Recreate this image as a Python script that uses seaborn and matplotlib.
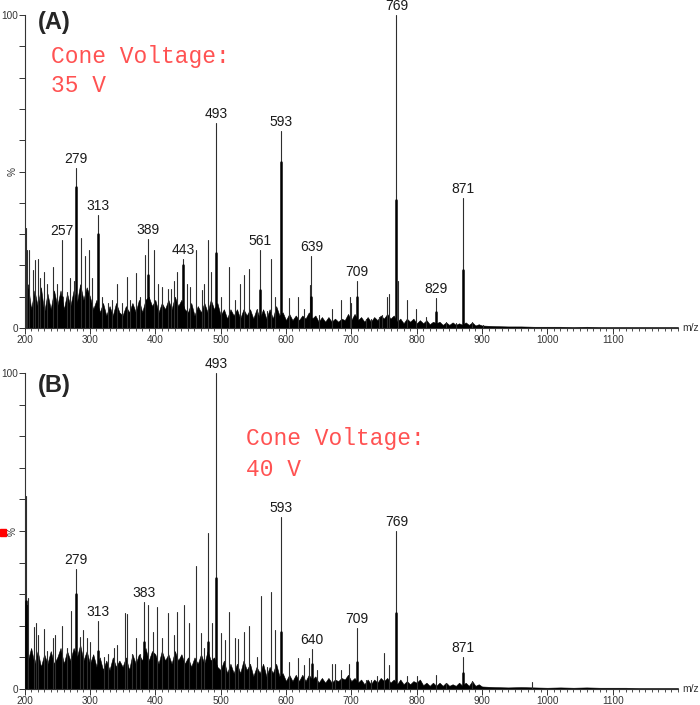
import numpy as np
import pandas as pd
import matplotlib
matplotlib.use("Agg")
import matplotlib.pyplot as plt
from matplotlib.ticker import MultipleLocator, FixedLocator
from matplotlib.patches import Rectangle
import seaborn as sns

# ---- panel A: cone voltage 35 V (m/z, relative intensity %) ----
mz_a = [202, 203.5, 207, 213, 216, 220, 224, 230, 234, 243, 250, 257, 265, 270, 275,
        279, 287, 293, 298, 303, 313, 319, 327, 334, 342, 349, 356, 362, 370, 377,
        384, 389, 398, 404, 411, 419, 424, 429, 434, 443, 449, 453, 462, 472, 475,
        480, 485, 493, 500, 513, 522, 529, 536, 544, 555, 561, 571, 577, 583, 593,
        604, 619, 627, 637, 639, 650, 670, 684, 698, 700, 709, 722, 730, 742, 747,
        755, 758, 769, 772, 786, 799, 815, 829, 845, 860, 871, 885, 902]
int_a = [32, 25, 25, 18.5, 21.7, 22, 16, 18, 14, 19.6, 14, 28, 11.6, 16, 15,
         51, 28.6, 23, 25, 16, 36, 10, 8, 9, 14, 8, 16.4, 9, 17.7, 10,
         23.3, 28.5, 25, 14, 13, 12.6, 12.6, 15, 18, 22, 14, 13, 25, 12, 14,
         28, 18, 65.5, 10, 19.6, 9, 14, 17, 18.8, 6, 25, 5.5, 22, 10, 63,
         9.6, 10, 6, 13.7, 23, 4, 6, 9, 10, 8, 15, 3, 3, 3.6, 4,
         10, 11, 100, 15, 9, 6, 3.5, 9.5, 1.8, 1.5, 41.5, 2, 1]
core_mz_a = [257, 279, 313, 389, 443, 493, 561, 593, 639, 709, 769, 829, 871]
core_a = [10, 45, 30, 17, 20, 24, 12, 53, 10, 10, 41, 5, 18.5]
labels_a = [257, 279, 313, 389, 443, 493, 561, 593, 639, 709, 769, 829, 871]
# dense baseline envelope, every 5 m/z from 200 to 895
grass_a = [11, 14, 6, 12, 7, 13, 5, 11, 6, 12,
           7, 12, 6, 11, 7, 12, 8, 14, 9, 13,
           10, 6, 9, 5, 8, 4, 7, 4, 8, 5,
           4, 7, 5, 8, 5, 9, 5, 9, 10, 7,
           9, 5, 8, 6, 9, 6, 10, 7, 9, 6,
           5, 8, 4, 7, 5, 8, 5, 9, 6, 8,
           4, 6, 3, 6, 4, 6, 3, 6, 4, 6,
           3, 6, 3, 6, 3, 6, 3, 7, 4, 5,
           2.5, 4.5, 2.5, 4, 2.5, 4, 3, 5, 3, 4,
           2, 3.5, 2, 3.5, 2, 3, 2, 3, 2.5, 4.5,
           2.5, 4.5, 2.5, 3.5, 2, 3.5, 2, 3.5, 2.5, 4,
           3, 4.5, 3, 4, 2, 3, 1.5, 3, 2, 3,
           1.5, 2.5, 1.5, 2.5, 1.2, 2, 1.5, 2, 1, 1.8,
           1, 1.8, 1, 1.5, 1, 1.8, 1, 1.8, 0.8, 1.2]
# tail, every 20 m/z from 900 to 1180
tail_a = [0.8, 0.6, 0.5, 0.5, 0.4, 0.4, 0.4, 0.3, 0.4, 0.3, 0.3, 0.3, 0.3, 0.3, 0.3]

# ---- panel B: cone voltage 40 V ----
mz_b = [202, 203.5, 205.5, 214, 217, 221, 229, 234, 243, 247, 257, 265, 271, 279, 285,
        289, 295, 300, 313, 321, 327, 337, 342, 354, 356, 365, 370, 377, 383, 389,
        397, 403, 411, 420, 428, 434, 444, 452, 462, 470, 474, 480, 487, 493, 500,
        506, 513, 522, 527, 536, 544, 555, 562, 571, 577, 583, 593, 604, 619, 627,
        636, 640, 648, 670, 675, 684, 697, 709, 722, 730, 740, 750, 757, 769, 786,
        800, 829, 845, 871, 885, 977]
int_b = [61, 26.6, 28.8, 19.7, 21, 17, 19, 12, 16, 17, 20, 13, 24.8, 38, 16.5,
         18.7, 16, 15, 21.5, 10, 11, 13, 14, 24, 23.7, 11, 16, 11, 27.5, 26.5,
         18, 26, 16, 24, 17, 24.5, 26.5, 21, 39, 17.6, 13, 49.5, 21, 100, 17.6,
         15.5, 24.5, 16, 15.7, 18, 19.8, 10, 29.4, 7, 30.8, 18.7, 54.4, 8.6, 9.7, 7.6,
         9.7, 12.7, 6, 8, 8, 6, 8, 19.3, 3, 3, 4, 11.4, 7.6, 50, 4,
         4, 4.4, 2, 10, 2.5, 2.2]
core_mz_b = [202, 279, 313, 383, 480, 493, 593, 640, 709, 769, 871]
core_b = [28, 30, 12, 15, 15, 35, 18, 8, 8.5, 24, 5]
labels_b = [279, 313, 383, 493, 593, 640, 709, 769, 871]
grass_b = [15, 9, 13, 8, 12, 7, 11, 8, 12, 8,
           10, 13, 8, 12, 9, 13, 10, 14, 9, 12,
           8, 11, 7, 10, 6, 9, 6, 10, 7, 9,
           7, 10, 6, 11, 8, 11, 9, 13, 9, 12,
           11, 8, 12, 9, 11, 8, 12, 9, 11, 8,
           10, 7, 10, 8, 11, 8, 12, 9, 10, 7,
           6, 9, 5, 8, 5, 8, 5, 9, 6, 8,
           4, 7, 5, 8, 4, 7, 5, 8, 4, 5,
           2.5, 4.5, 2.5, 4.5, 2.5, 4.5, 2.5, 4.5, 3, 4,
           2, 3.5, 2, 3.5, 2, 3, 2.5, 3.5, 3, 4.5,
           2.5, 3.5, 2, 3, 1.5, 3, 1.5, 3, 2, 3.5,
           2.5, 3.5, 2, 3, 1.5, 3, 1.5, 2.5, 1.5, 2.5,
           2, 3, 1.2, 2, 1, 2, 1, 2, 1, 2,
           1, 1.5, 1, 2, 1, 2, 1, 2.5, 1, 1.5]
tail_b = [0.8, 0.6, 0.5, 0.6, 0.5, 0.4, 0.5, 0.4, 0.5, 0.4, 0.4, 0.4, 0.3, 0.3, 0.3]

grass_mz = np.arange(200, 900, 5)
tail_mz = np.arange(900, 1200, 20)

SANS = "Liberation Sans"
MONO = "Liberation Mono"
RED = "#ff5252"


def sticks(mz, h):
    rows = []
    for i, (m, v) in enumerate(zip(mz, h)):
        rows.append((i, m, 0.0))
        rows.append((i, m, v))
    return pd.DataFrame(rows, columns=["pid", "mz", "rel"])


def draw_panel(ax, mz, inten, core_mz, core, grass, tail, labels):
    gx = np.concatenate([grass_mz, tail_mz, [1200]])
    gy = np.concatenate([grass, tail, [0.3]])
    ax.fill_between(gx, 0, gy, color="black", lw=0.4, zorder=2)
    sns.lineplot(data=sticks(mz, inten), x="mz", y="rel", units="pid", estimator=None,
                 sort=False, color="#2e2e2e", lw=0.8, ax=ax, zorder=3)
    sns.lineplot(data=sticks(core_mz, core), x="mz", y="rel", units="pid", estimator=None,
                 sort=False, color="black", lw=1.8, ax=ax, zorder=4)
    top = dict(zip(mz, inten))
    for m in labels:
        ax.annotate(str(m), (m, top[m]), xytext=(0, 1.5), textcoords="offset points",
                    ha="center", va="bottom", fontsize=10, family=SANS, color="#1a1a1a",
                    annotation_clip=False)

    ax.set_xlim(200, 1200)
    ax.set_ylim(0, 100)
    ax.set_xlabel("")
    ax.set_ylabel("")
    sns.despine(ax=ax)
    for s in ("left", "bottom"):
        ax.spines[s].set_linewidth(0.8)
        ax.spines[s].set_color("#333333")
    ax.xaxis.set_major_locator(FixedLocator(list(range(200, 1200, 100))))
    ax.xaxis.set_minor_locator(MultipleLocator(10))
    ax.set_yticks([0, 50, 100])
    ax.set_yticklabels(["0", "%", "100"])
    ax.yaxis.set_minor_locator(MultipleLocator(10))
    ax.tick_params(axis="both", which="major", length=4, width=0.7, color="#333333",
                   labelsize=7.2, labelcolor="#333333", pad=0.8)
    ax.tick_params(axis="y", which="minor", length=4, width=0.7, color="#333333")
    ax.tick_params(axis="x", which="minor", length=2, width=0.6, color="#333333")
    for t in ax.get_yticklabels():
        t.set_family(SANS)
        if t.get_text() == "%":
            t.set_rotation(90)
            t.set_va("center")
    for t in ax.get_xticklabels():
        t.set_family(SANS)
    ax.text(1.006, 0, "m/z", transform=ax.transAxes, ha="left", va="center",
            fontsize=7.5, family=SANS, color="#333333")


sns.set_style("ticks")
fig = plt.figure(figsize=(7, 7.05), dpi=100)
W, H = 700, 705
x0, x1 = 24.6, 678
ax_a = fig.add_axes([x0 / W, 1 - 328 / H, (x1 - x0) / W, (328 - 15) / H])
ax_b = fig.add_axes([x0 / W, 1 - 689 / H, (x1 - x0) / W, (689 - 373) / H])

draw_panel(ax_a, mz_a, int_a, core_mz_a, core_a, grass_a, tail_a, labels_a)
draw_panel(ax_b, mz_b, int_b, core_mz_b, core_b, grass_b, tail_b, labels_b)

fig.text(38 / W, 1 - 11 / H, "(A)", ha="left", va="top", fontsize=17,
         fontweight="bold", family=SANS)
fig.text(38 / W, 1 - 374 / H, "(B)", ha="left", va="top", fontsize=17,
         fontweight="bold", family=SANS)
fig.text(51 / W, 1 - 57 / H, "Cone Voltage:", ha="left", va="center", fontsize=16.5,
         family=MONO, color=RED)
fig.text(51 / W, 1 - 86 / H, "35 V", ha="left", va="center", fontsize=16.5,
         family=MONO, color=RED)
fig.text(246 / W, 1 - 439 / H, "Cone Voltage:", ha="left", va="center", fontsize=16.5,
         family=MONO, color=RED)
fig.text(246 / W, 1 - 469 / H, "40 V", ha="left", va="center", fontsize=16.5,
         family=MONO, color=RED)
fig.patches.append(Rectangle((0, 1 - 536 / H), 6 / W, 7 / H, color="red",
                             transform=fig.transFigure, figure=fig))

fig.savefig("out.png", dpi=100)
